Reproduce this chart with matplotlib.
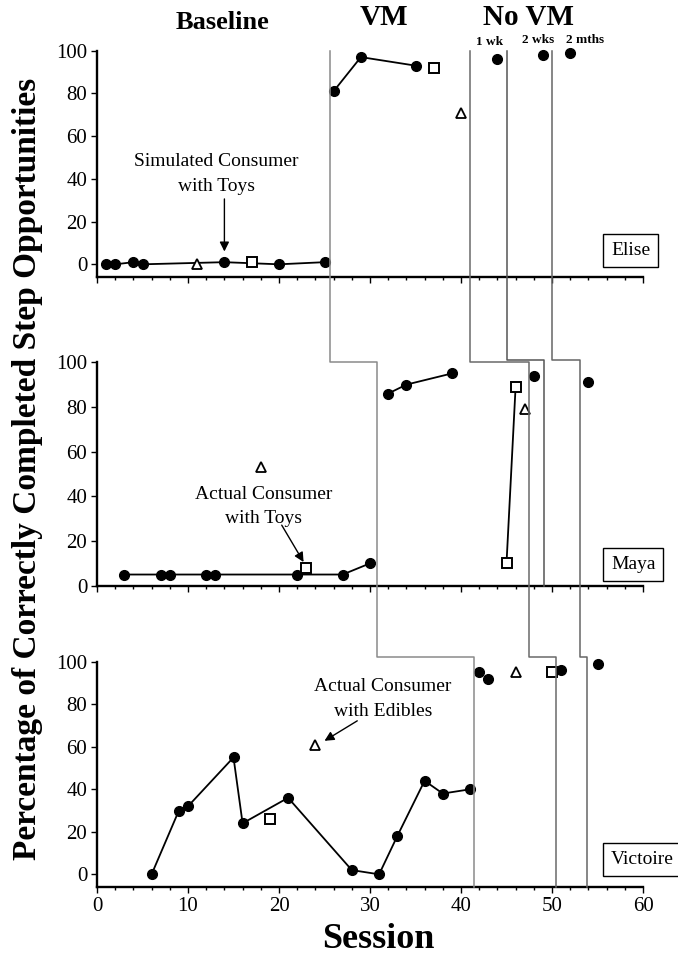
import matplotlib.pyplot as plt
from matplotlib.lines import Line2D

plt.rcParams['font.family'] = ['Liberation Serif', 'DejaVu Serif']

# Elise
elise_bl_x = [1, 2, 4, 5, 14, 20, 25]
elise_bl_y = [0, 0, 1, 0, 1, 0, 1]
elise_vm_x = [26, 29, 35]
elise_vm_y = [81, 97, 93]
elise_fu_x = [44, 49, 52]
elise_fu_y = [96, 98, 99]
elise_tri_x = [11, 40]
elise_tri_y = [0, 71]
elise_sq_x = [17, 37]
elise_sq_y = [1, 92]

# Maya
maya_bl_x = [3, 7, 8, 12, 13, 22, 27, 30]
maya_bl_y = [5, 5, 5, 5, 5, 5, 5, 10]
maya_vm_x = [32, 34, 39]
maya_vm_y = [86, 90, 95]
maya_fu_x = [48, 54]
maya_fu_y = [94, 91]
maya_tri_x = [18, 47]
maya_tri_y = [53, 79]
maya_sq_x = [23]
maya_sq_y = [8]
maya_sq2_x = [45, 46]
maya_sq2_y = [10, 89]

# Victoire
vic_bl_x = [6, 9, 10, 15, 16, 21, 28, 31, 33, 36, 38, 41]
vic_bl_y = [0, 30, 32, 55, 24, 36, 2, 0, 18, 44, 38, 40]
vic_fu_x = [42, 43, 51, 55]
vic_fu_y = [95, 92, 96, 99]
vic_tri_x = [24, 46]
vic_tri_y = [61, 95]
vic_sq_x = [19, 50]
vic_sq_y = [26, 95]

# phase change lines: (session, panel, value) points
phase_lines = [
    [(25.6, 0, 100), (25.6, 1, 100), (30.8, 1, 100), (30.8, 2, 102), (41.4, 2, 102), (41.4, 2, -6.1)],
    [(41.0, 0, 100), (41.0, 1, 100), (47.5, 1, 100), (47.5, 2, 102), (50.4, 2, 102), (50.4, 2, -6.1)],
    [(45.0, 0, 100), (45.0, 1, 101), (49.1, 1, 101), (49.1, 1, 0)],
    [(50.0, 0, 100), (50.0, 1, 101), (53.1, 1, 101), (53.1, 2, 102), (53.9, 2, 102), (53.9, 2, -6.1)],
]
phase_colors = ['#8a8a8a', '#6a6a6a', '#555555', '#666666']

W, H = 678, 959
fig = plt.figure(figsize=(W / 100, H / 100), dpi=100)


def make_axes(top, bottom, ymin):
    ax = fig.add_axes([97 / W, 1 - bottom / H, 546 / W, (bottom - top) / H])
    ax.set_xlim(0, 60)
    ax.set_ylim(ymin, 105)
    for s in ['top', 'right']:
        ax.spines[s].set_visible(False)
    ax.spines['left'].set_bounds(ymin, 100)
    ax.spines['left'].set_linewidth(1.7)
    ax.spines['bottom'].set_linewidth(1.7)
    ax.set_xticks(range(0, 61, 10))
    ax.set_xticks(range(0, 61, 2), minor=True)
    ax.set_yticks(range(0, 101, 20))
    ax.tick_params(axis='x', which='major', length=4, width=1, labelsize=15, pad=3)
    ax.tick_params(axis='x', which='minor', length=2.5, width=1)
    ax.tick_params(axis='y', length=4, width=1, labelsize=15, pad=3)
    ax.patch.set_alpha(0)
    return ax


ax1 = make_axes(40.0, 276.7, -5.8)
ax2 = make_axes(351.1, 585.7, 0)
ax3 = make_axes(651.1, 887.3, -6.1)
ax1.tick_params(axis='x', labelbottom=False)
ax2.tick_params(axis='x', labelbottom=False)
axes = [ax1, ax2, ax3]

line_kw = dict(color='black', lw=1.3, zorder=3)
dot_kw = dict(ls='none', marker='o', ms=7, color='black', zorder=4)
sq_kw = dict(ls='none', marker='s', ms=7.5, mfc='white', mec='black', mew=1.4, zorder=4)
tri_kw = dict(ls='none', marker='^', ms=7, mfc='white', mec='black', mew=1.3, zorder=4)

# Elise
ax1.plot(elise_bl_x, elise_bl_y, **line_kw)
ax1.plot(elise_vm_x, elise_vm_y, **line_kw)
ax1.plot(elise_bl_x + elise_vm_x + elise_fu_x, elise_bl_y + elise_vm_y + elise_fu_y, **dot_kw)
ax1.plot(elise_sq_x, elise_sq_y, **sq_kw)
ax1.plot(elise_tri_x, elise_tri_y, **tri_kw)

# Maya
ax2.plot(maya_bl_x, maya_bl_y, **line_kw)
ax2.plot(maya_vm_x, maya_vm_y, **line_kw)
ax2.plot(maya_sq2_x, maya_sq2_y, **line_kw)
ax2.plot(maya_bl_x + maya_vm_x + maya_fu_x, maya_bl_y + maya_vm_y + maya_fu_y, **dot_kw)
ax2.plot(maya_sq_x + maya_sq2_x, maya_sq_y + maya_sq2_y, **sq_kw)
ax2.plot(maya_tri_x, maya_tri_y, **tri_kw)

# Victoire
ax3.plot(vic_bl_x, vic_bl_y, **line_kw)
ax3.plot(vic_bl_x + vic_fu_x, vic_bl_y + vic_fu_y, **dot_kw)
ax3.plot(vic_sq_x, vic_sq_y, **sq_kw)
ax3.plot(vic_tri_x, vic_tri_y, **tri_kw)

# names in boxes
box = dict(boxstyle='square,pad=0.4', fc='white', ec='black', lw=1)
for ax, name, yv in [(ax1, 'Elise', 6.5), (ax2, 'Maya', 9.4), (ax3, 'Victoire', 7.0)]:
    ax.text(56.5, yv, name, fontsize=14, ha='left', va='center', bbox=box, clip_on=False, zorder=5)

# annotations
arrow = dict(arrowstyle='-|>', color='black', lw=1, mutation_scale=14, shrinkA=0, shrinkB=0)
note = dict(fontsize=14, ha='center', va='center', linespacing=1.55)
ax1.text(13.1, 42.3, 'Simulated Consumer\nwith Toys', **note)
ax1.annotate('', xy=(14, 6), xytext=(14, 30.6), arrowprops=arrow)
ax2.text(18.3, 35.6, 'Actual Consumer\nwith Toys', **note)
ax2.annotate('', xy=(22.7, 10.6), xytext=(20.3, 27.1), arrowprops=arrow)
ax3.text(31.4, 82.5, 'Actual Consumer\nwith Edibles', **note)
ax3.annotate('', xy=(25.0, 62.8), xytext=(28.6, 72.2), arrowprops=arrow)

# phase labels
ax1.text(13.8, 113.4, 'Baseline', fontsize=19, fontweight='bold', ha='center', va='center', clip_on=False)
ax1.text(31.5, 115.3, 'VM', fontsize=21, fontweight='bold', ha='center', va='center', clip_on=False)
ax1.text(47.4, 115.3, 'No VM', fontsize=21, fontweight='bold', ha='center', va='center', clip_on=False)
ax1.text(43.1, 104.2, '1 wk', fontsize=9.5, fontweight='bold', ha='center', va='center', clip_on=False)
ax1.text(48.5, 104.9, '2 wks', fontsize=9.5, fontweight='bold', ha='center', va='center', clip_on=False)
ax1.text(53.6, 104.9, '2 mths', fontsize=9.5, fontweight='bold', ha='center', va='center', clip_on=False)

# phase change lines across panels
to_fig = fig.transFigure.inverted()
for pts, col in zip(phase_lines, phase_colors):
    xy = [to_fig.transform(axes[p].transData.transform((s, v))) for s, p, v in pts]
    fig.add_artist(Line2D([q[0] for q in xy], [q[1] for q in xy], color=col, lw=1.1, zorder=2))

fig.text(28 / W, 1 - 469 / H, 'Percentage of Correctly Completed Step Opportunities',
         rotation=90, fontsize=24, fontweight='bold', ha='center', va='center')
fig.text(378 / W, 1 - 940 / H, 'Session', fontsize=26, fontweight='bold', ha='center', va='center')

fig.savefig('out.png', dpi=100)
